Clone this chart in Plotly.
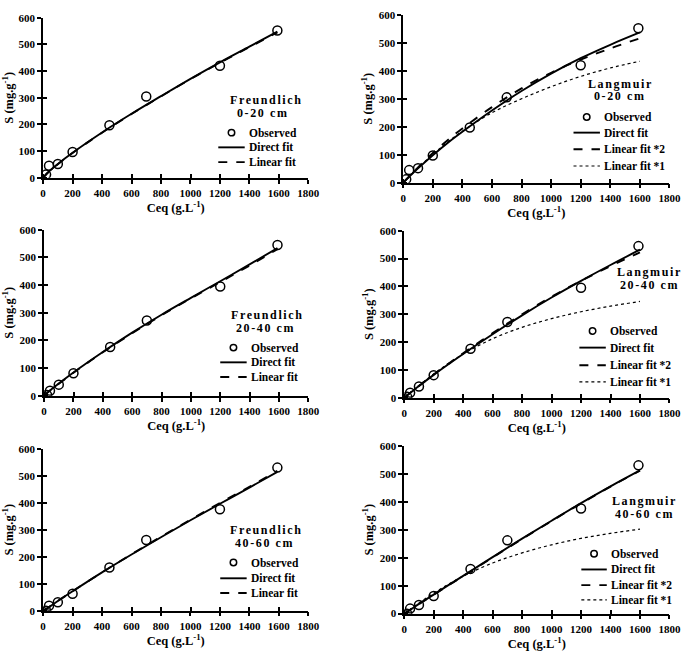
import plotly.graph_objects as go

# ---------------- data ----------------
ceq_obs = [20, 40, 100, 200, 450, 700, 1200, 1590]
s_obs_0_20 = [12, 45, 52, 97, 197, 305, 420, 552]
s_obs_20_40 = [3, 18, 40, 81, 176, 272, 395, 545]
s_obs_40_60 = [0, 18, 31, 63, 160, 262, 376, 530]

freund_x = [0, 25, 50, 100, 200, 400, 600, 800, 1000, 1200, 1400, 1590]
fr_direct_0_20 = [0, 16, 29, 52, 94, 170, 240, 306, 371, 433, 492, 548]
fr_linear_0_20 = [0, 15, 28, 51, 93, 169, 239, 305, 370, 431, 490, 545]
fr_direct_20_40 = [0, 12, 23, 44, 84, 158, 228, 293, 354, 414, 475, 534]
fr_linear_20_40 = [0, 12, 23, 43, 83, 157, 226, 291, 352, 411, 471, 530]
fr_direct_40_60 = [0, 8, 17, 36, 72, 142, 208, 272, 335, 396, 456, 514]
fr_linear_40_60 = [0, 8, 17, 36, 72, 142, 209, 274, 337, 399, 459, 518]

lang_x = [0, 50, 100, 200, 300, 400, 600, 800, 1000, 1200, 1400, 1600]
la_direct_0_20 = [0, 26, 51, 98, 142, 182, 258, 328, 390, 445, 493, 537]
la_lin2_0_20 = [0, 28, 55, 106, 152, 194, 270, 337, 393, 440, 480, 516]
la_lin1_0_20 = [0, 27, 53, 101, 145, 184, 250, 300, 343, 380, 410, 434]
la_direct_20_40 = [0, 21, 42, 82, 120, 157, 228, 296, 360, 420, 477, 532]
la_lin2_20_40 = [0, 21, 42, 83, 122, 160, 232, 300, 363, 420, 473, 522]
la_lin1_20_40 = [0, 22, 44, 85, 123, 157, 212, 253, 284, 309, 329, 346]
la_direct_40_60 = [0, 17, 35, 68, 102, 135, 202, 268, 332, 395, 455, 512]
la_lin2_40_60 = [0, 17, 34, 68, 101, 134, 201, 267, 331, 394, 454, 511]
la_lin1_40_60 = [0, 19, 38, 73, 105, 134, 181, 217, 246, 269, 287, 302]

x_tick_vals = list(range(0, 1801, 200))
y_tick_vals = list(range(0, 601, 100))

FONT = "Liberation Serif"
W, H = 700, 654

# panel geometry in pixels: (left, right, top, bottom)
geom = [
    (41, 312, 12, 175),
    (409, 681, 9, 180),
    (42, 312, 228, 397),
    (410, 681, 229, 399),
    (41, 312, 451, 616),
    (410, 681, 448, 619),
]

# legend geometry: (line x0, line x1, text x, [row y...])
panels = [
    dict(model="Freundlich", depth="0-20 cm", obs=s_obs_0_20, fx=freund_x,
         lines=[("Direct fit", fr_direct_0_20, "solid"), ("Linear fit", fr_linear_0_20, "dash")],
         title=(260, 96), leg=(220, 247, 249, [129, 144, 159])),
    dict(model="Langmuir", depth="0-20 cm", obs=s_obs_0_20, fx=lang_x,
         lines=[("Direct fit", la_direct_0_20, "solid"), ("Linear fit *2", la_lin2_0_20, "dash"),
                ("Linear fit *1", la_lin1_0_20, "dot")],
         title=(624, 79), leg=(583, 610, 612, [113, 129, 146, 163])),
    dict(model="Freundlich", depth="20-40 cm", obs=s_obs_20_40, fx=freund_x,
         lines=[("Direct fit", fr_direct_20_40, "solid"), ("Linear fit", fr_linear_20_40, "dash")],
         title=(261, 315), leg=(222, 249, 251, [348, 363, 378])),
    dict(model="Langmuir", depth="20-40 cm", obs=s_obs_20_40, fx=lang_x,
         lines=[("Direct fit", la_direct_20_40, "solid"), ("Linear fit *2", la_lin2_20_40, "dash"),
                ("Linear fit *1", la_lin1_20_40, "dot")],
         title=(654, 271), leg=(589, 616, 618, [331, 348, 366, 383])),
    dict(model="Freundlich", depth="40-60 cm", obs=s_obs_40_60, fx=freund_x,
         lines=[("Direct fit", fr_direct_40_60, "solid"), ("Linear fit", fr_linear_40_60, "dash")],
         title=(260, 534), leg=(222, 249, 251, [567, 583, 598])),
    dict(model="Langmuir", depth="40-60 cm", obs=s_obs_40_60, fx=lang_x,
         lines=[("Direct fit", la_direct_40_60, "solid"), ("Linear fit *2", la_lin2_40_60, "dash"),
                ("Linear fit *1", la_lin1_40_60, "dot")],
         title=(648, 504), leg=(591, 617, 619, [558, 574, 590, 605])),
]


def px(x):
    return x / W


def py(y):
    return 1 - y / H


fig = go.Figure()
annotations = []
shapes = []
layout = {}
bold = dict(family=FONT, color="black", weight="bold")
LS = 1.6  # letter spacing of the model / depth labels

for i, (p, g) in enumerate(zip(panels, geom)):
    n = i + 1
    sfx = "" if n == 1 else str(n)
    xa, ya = "x" + sfx, "y" + sfx
    for name, vals, dash in p["lines"]:
        fig.add_trace(go.Scatter(
            x=p["fx"], y=vals, mode="lines", name=name,
            line=dict(color="black", width=1.9 if dash != "dot" else 1.2, dash=dash, shape="spline"),
            xaxis=xa, yaxis=ya, showlegend=False,
        ))
    fig.add_trace(go.Scatter(
        x=ceq_obs, y=p["obs"], mode="markers", name="Observed",
        marker=dict(symbol="circle-open", size=9, color="black", line=dict(width=1.5, color="black")),
        xaxis=xa, yaxis=ya, showlegend=False,
    ))

    l, r, t, b = g
    axis_common = dict(
        showline=True, linecolor="black", linewidth=1.6, mirror=False,
        showgrid=False, zeroline=False,
        ticks="outside", ticklen=4, tickwidth=1.5, tickcolor="black",
        tickfont=dict(bold, size=11),
        fixedrange=True,
    )
    layout["xaxis" + sfx] = dict(
        axis_common, domain=[l / W, r / W], range=[0, 1800], tickmode="array",
        tickvals=x_tick_vals, anchor=ya,
        minor=dict(tickmode="array", tickvals=[v + 0.5 for v in x_tick_vals], ticks="inside",
                   ticklen=4, tickwidth=1.5, tickcolor="black", showgrid=False),
        title=dict(text="Ceq (g.L<sup>-1</sup>)", standoff=1, font=dict(bold, size=12.5)),
    )
    layout["yaxis" + sfx] = dict(
        axis_common, domain=[1 - b / H, 1 - t / H], range=[0, 600], tickmode="array",
        tickvals=y_tick_vals, anchor=xa,
        minor=dict(tickmode="array", tickvals=[v + 0.2 for v in y_tick_vals], ticks="inside",
                   ticklen=4, tickwidth=1.5, tickcolor="black", showgrid=False),
        title=dict(text="S (mg.g<sup>-1</sup>)", standoff=3, font=dict(bold, size=12.5)),
    )

    # model / depth label (letter-spaced)
    tx, ty = p["title"]
    for txt, yy in ((p["model"], ty), (p["depth"], ty + 13)):
        shift = len(txt) * LS * 0.55
        annotations.append(dict(
            text='<span style="letter-spacing:%.1fpx">%s</span>' % (LS, txt),
            x=px(tx + shift), y=py(yy), xref="paper", yref="paper", showarrow=False,
            xanchor="center", yanchor="middle", font=dict(bold, size=12),
        ))

    # hand-built legend
    x0, x1, txx, rows = p["leg"]
    labels = ["Observed"] + [ln[0] for ln in p["lines"]]
    styles = [None] + [ln[2] for ln in p["lines"]]
    for lab, sty, yy in zip(labels, styles, rows):
        annotations.append(dict(
            text=lab, x=px(txx), y=py(yy), xref="paper", yref="paper", showarrow=False,
            xanchor="left", yanchor="middle", font=dict(bold, size=11.5),
        ))
        if sty is None:
            cx = (x0 + x1) / 2
            shapes.append(dict(type="circle", xref="paper", yref="paper",
                               x0=px(cx - 3.3), x1=px(cx + 3.3), y0=py(yy + 3.3), y1=py(yy - 3.3),
                               line=dict(color="black", width=1.5)))
        else:
            shapes.append(dict(type="line", xref="paper", yref="paper",
                               x0=px(x0), x1=px(x1), y0=py(yy), y1=py(yy),
                               line=dict(color="black", width=1.9 if sty != "dot" else 1.2, dash=sty)))

fig.update_layout(
    width=W, height=H, margin=dict(l=0, r=0, t=0, b=0),
    paper_bgcolor="white", plot_bgcolor="white",
    annotations=annotations, shapes=shapes, showlegend=False,
    **layout,
)

fig.write_html("out.html")
